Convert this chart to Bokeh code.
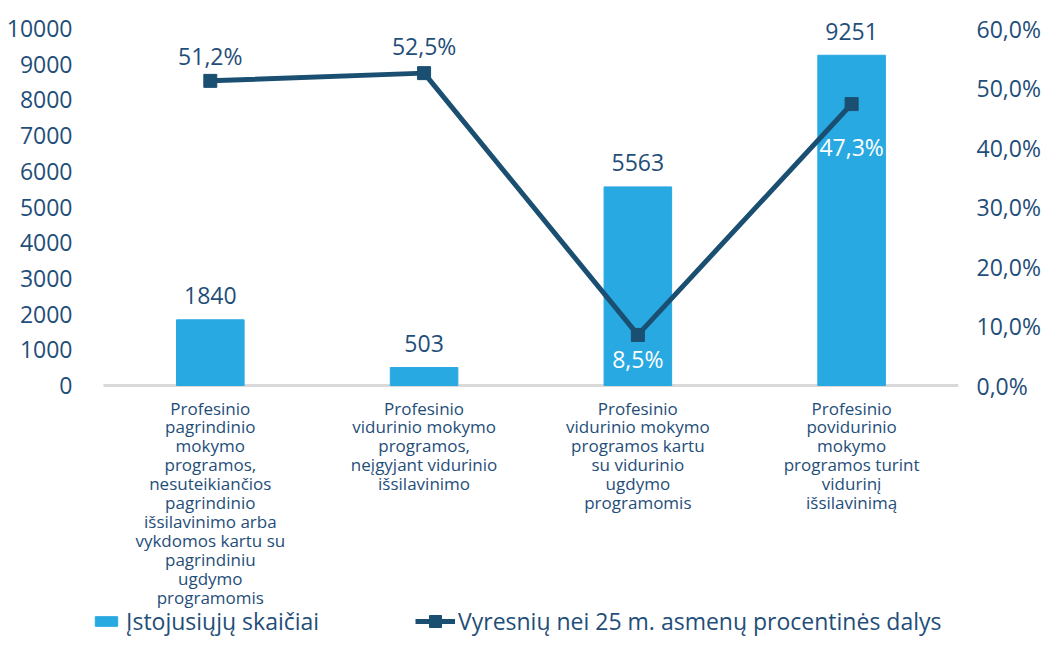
from bokeh.plotting import figure
from bokeh.models import (ColumnDataSource, Range1d, LinearAxis, FixedTicker,
                          CustomJSTickFormatter, Legend, LegendItem)
from bokeh.core.properties import value
from bokeh.embed import file_html
from bokeh.resources import INLINE

# ---- data ----
categories = [
    "Profesinio\npagrindinio\nmokymo\nprogramos,\nnesuteikiančios\npagrindinio\nišsilavinimo arba\nvykdomos kartu su\npagrindiniu\nugdymo\nprogramomis",
    "Profesinio\nvidurinio mokymo\nprogramos,\nneįgyjant vidurinio\nišsilavinimo",
    "Profesinio\nvidurinio mokymo\nprogramos kartu\nsu vidurinio\nugdymo\nprogramomis",
    "Profesinio\npovidurinio\nmokymo\nprogramos turint\nvidurinį\nišsilavinimą",
]
admitted = [1840, 503, 5563, 9251]
share_over25 = [51.2, 52.5, 8.5, 47.3]
left_ticks = [0, 1000, 2000, 3000, 4000, 5000, 6000, 7000, 8000, 9000, 10000]
right_ticks = [0, 10, 20, 30, 40, 50, 60]
series_names = ["Įstojusiųjų skaičiai", "Vyresnių nei 25 m. asmenų procentinės dalys"]

# ---- styles / layout ----
BAR = "#29A9E1"
LINE = "#1B4F72"
TXT = "#1F4E79"
FONT = "Open Sans"
W, H = 1043, 637
FRAME_L, FRAME_R, FRAME_T = 92, 963, 4
TOP_TICK_Y = 28         # pixel row of the highest tick
ZERO_Y = 385            # pixel row of the zero line
CAT_W = 215             # pixels per category
pct_label_offsets = [-25, -27, 24, 43]
pct_label_colors = [TXT, TXT, "#FFFFFF", "#FFFFFF"]

n_cat = len(categories)
xs = list(range(n_cat))
x_end = n_cat - 0.5
x_start = x_end - (FRAME_R - FRAME_L) / CAT_W
scale_px = ZERO_Y - TOP_TICK_Y
top_f = (ZERO_Y - FRAME_T) / scale_px
bot_f = (H - ZERO_Y) / scale_px
y_max, p_max = left_ticks[-1], right_ticks[-1]

pct_text = [f"{v:.1f}".replace(".", ",") + "%" for v in share_over25]
src = ColumnDataSource(dict(
    x=xs, cat=categories, n=admitted, n_txt=[str(v) for v in admitted],
    pct=share_over25, pct_txt=pct_text,
    pct_off=pct_label_offsets, pct_col=pct_label_colors,
    zero=[0] * n_cat,
))

p = figure(width=W, height=H, x_range=Range1d(x_start, x_end),
           y_range=Range1d(-y_max * bot_f, y_max * top_f),
           output_backend="svg", toolbar_location=None,
           min_border_left=FRAME_L, min_border_right=W - FRAME_R,
           min_border_top=FRAME_T, min_border_bottom=0)
p.extra_y_ranges = {"pct": Range1d(-p_max * bot_f, p_max * top_f)}
p.outline_line_color = None
p.xgrid.grid_line_color = None
p.ygrid.grid_line_color = None
p.xaxis.visible = False

# zero baseline
p.segment(x0=-0.5, x1=n_cat - 0.5, y0=0, y1=0, line_color="#D9D9D9", line_width=3)

bars = p.vbar(x="x", top="n", width=0.316, source=src, color=BAR)
ln = p.line(x="x", y="pct", source=src, y_range_name="pct",
            line_color=LINE, line_width=5)
mk = p.scatter(x="x", y="pct", source=src, y_range_name="pct",
               marker="square", size=13, color=LINE)

p.text(x="x", y="n", text="n_txt", source=src, y_offset=-24,
       text_align="center", text_baseline="middle", text_color=TXT,
       text_font=value(FONT), text_font_size="23px")
p.text(x="x", y="pct", text="pct_txt", source=src, y_range_name="pct",
       y_offset="pct_off", text_align="center", text_baseline="middle",
       text_color="pct_col", text_font=value(FONT), text_font_size="23px")

# category labels
p.text(x="x", y="zero", text="cat", source=src, y_offset=11,
       text_align="center", text_baseline="top", text_color=TXT,
       text_font=value(FONT), text_font_size="17px", text_line_height=0.825)

# left axis
ya = p.yaxis[0]
ya.ticker = FixedTicker(ticks=left_ticks)
ya.axis_line_color = None
ya.major_tick_line_color = None
ya.minor_tick_line_color = None
ya.major_label_text_font = FONT
ya.major_label_text_font_size = "23px"
ya.major_label_text_color = TXT
ya.major_label_standoff = 14

# right axis
ra = LinearAxis(y_range_name="pct", ticker=FixedTicker(ticks=right_ticks),
                formatter=CustomJSTickFormatter(code="return tick.toFixed(1).replace('.', ',') + '%';"))
ra.axis_line_color = None
ra.major_tick_line_color = None
ra.minor_tick_line_color = None
ra.major_label_text_font = FONT
ra.major_label_text_font_size = "23px"
ra.major_label_text_color = TXT
ra.major_label_standoff = 12
p.add_layout(ra, "right")

common = dict(orientation="horizontal", label_text_font=FONT,
              label_text_font_size="23px", label_text_color=TXT,
              padding=0, margin=0,
              border_line_color=None, background_fill_alpha=0)
leg_bar = Legend(items=[LegendItem(label=series_names[0], renderers=[bars])],
                 location=(0, 0), glyph_width=28, glyph_height=12,
                 label_standoff=6, **common)
leg_line = Legend(items=[LegendItem(label=series_names[1], renderers=[ln, mk])],
                  location=(323, 0), glyph_width=40, glyph_height=30,
                  label_standoff=3, **common)
p.add_layout(leg_bar, "center")
p.add_layout(leg_line, "center")

open("out.html", "w").write(file_html(p, INLINE))
